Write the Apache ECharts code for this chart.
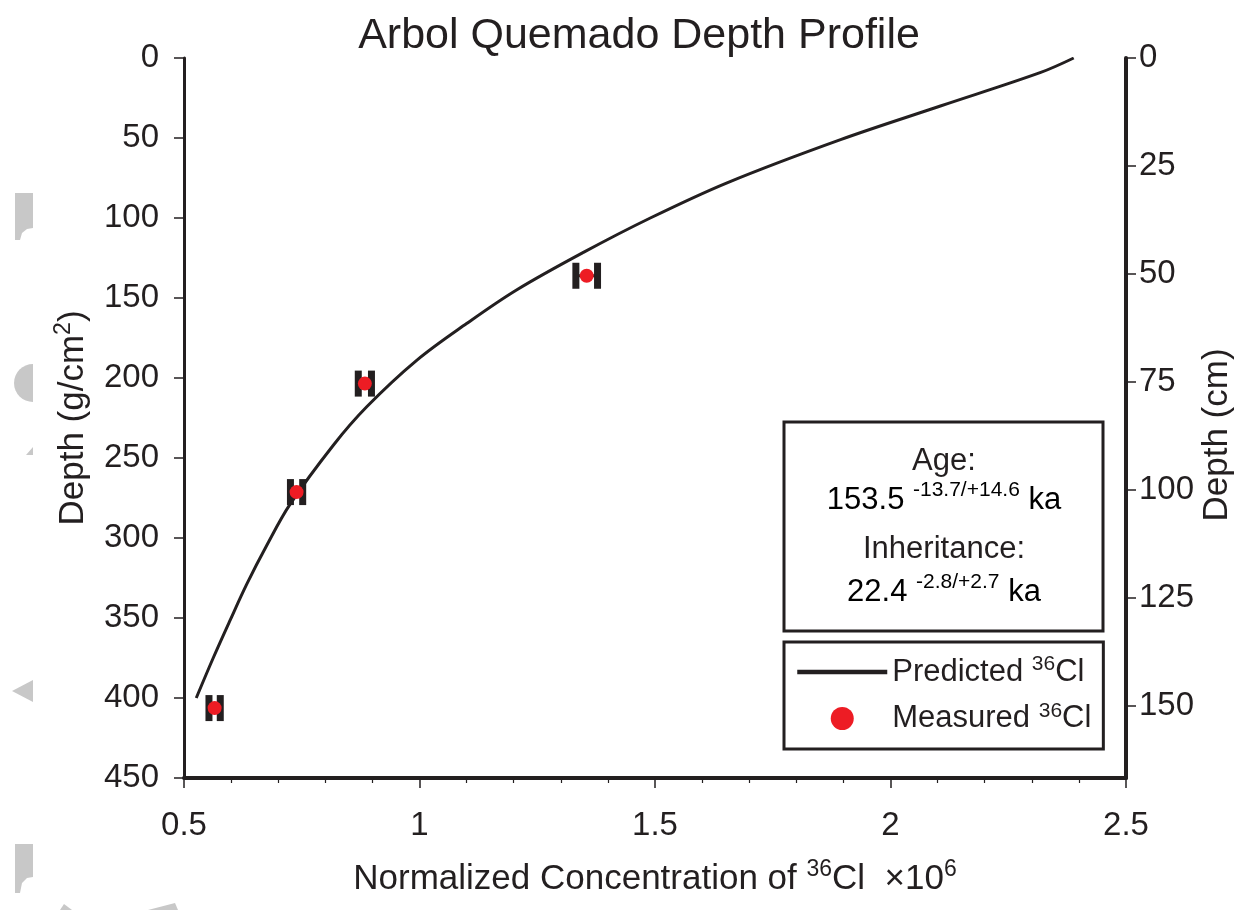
<!DOCTYPE html>
<html><head><meta charset="utf-8">
<script src="https://cdn.jsdelivr.net/npm/echarts@6/dist/echarts.min.js"></script>
<style>html,body{margin:0;padding:0;background:#fff}#c{width:1239px;height:910px}</style>
</head><body><div id="c"></div>
<script>
// ---- data ----
const predictedX = [0.526,0.562,0.597,0.633,0.675,0.725,0.817,0.888,0.994,1.100,1.206,1.348,1.490,1.653,1.894,2.106,2.319,2.389];
const predictedDepth = [400,375,352,329,305,279,242,218,189,166,145,121.5,100,78,51,30,9,0];
const measuredX = [1.355,0.884,0.739,0.565];
const measuredDepth = [136.1,203.5,271.3,406.3];
const measuredErr = [0.023,0.014,0.013,0.012];
const xTicks = [0.5,1,1.5,2,2.5];
const leftTicks = [0,50,100,150,200,250,300,350,400,450];
const rightTicks = [0,25,50,75,100,125,150];
const density = 2.7; // g/cm3 : 450 g/cm2 -> 166.7 cm

const INK = '#231f20';
const FONT = 'Liberation Sans, Arial, sans-serif';
const richMain = (fs, lh) => ({ fontSize: fs, lineHeight: lh, fontFamily: FONT, color: INK });
const richSup = (fs, lh) => ({ fontSize: fs, lineHeight: lh, fontFamily: FONT, color: INK, verticalAlign: 'top' });

const chart = echarts.init(document.getElementById('c'), null, { renderer: 'canvas' });

const grey = '#c8c8c8';
const option = {
  backgroundColor: '#fff',
  animation: false,
  grid: { left: 184, right: 113, top: 58, bottom: 132, containLabel: false, outerBoundsMode: 'none' },
  xAxis: {
    type: 'value', min: xTicks[0], max: xTicks[xTicks.length - 1], interval: 0.5,
    position: 'bottom',
    axisLine: { show: true, onZero: false, lineStyle: { color: INK, width: 4 } },
    axisTick: { show: true, length: 10, lineStyle: { color: INK, width: 1.5 } },
    minorTick: { show: true, splitNumber: 5, length: 5, lineStyle: { color: INK, width: 1.2 } },
    splitLine: { show: false },
    axisLabel: { color: INK, fontSize: 33, fontFamily: FONT, margin: 31 },
    name: '{a|Normalized Concentration of }{s|36}{a|Cl  ×10}{s|6}',
    nameLocation: 'middle', nameGap: 80, nameMoveOverlap: false,
    nameTextStyle: { rich: { a: richMain(35, 42), s: richSup(23, 20) } }
  },
  yAxis: [
    {
      type: 'value', inverse: true, min: leftTicks[0], max: leftTicks[leftTicks.length - 1], interval: 50,
      position: 'left',
      axisLine: { show: true, onZero: false, lineStyle: { color: INK, width: 3 } },
      axisTick: { show: true, length: 10, lineStyle: { color: INK, width: 1.5 } },
      splitLine: { show: false },
      axisLabel: { color: INK, fontSize: 33, fontFamily: FONT, margin: 25 },
      name: '{a|Depth (g/cm}{s|2}{a|)}',
      nameLocation: 'middle', nameGap: 90, nameRotate: 90, nameMoveOverlap: false,
      nameTextStyle: { rich: { a: richMain(35, 42), s: richSup(23, 20) } }
    },
    {
      type: 'value', inverse: true, min: 0, max: leftTicks[leftTicks.length - 1] / density, interval: 25,
      position: 'right',
      axisLine: { show: true, onZero: false, lineStyle: { color: INK, width: 4 } },
      axisTick: { show: true, length: 10, customValues: rightTicks, lineStyle: { color: INK, width: 1.5 } },
      splitLine: { show: false },
      axisLabel: { color: INK, fontSize: 33, fontFamily: FONT, margin: 13, customValues: rightTicks },
      name: 'Depth (cm)',
      nameLocation: 'middle', nameGap: 74, nameRotate: 90, nameMoveOverlap: false,
      nameTextStyle: { color: INK, fontSize: 35, fontFamily: FONT, padding: [0, 34, 0, 0] }
    }
  ],
  legend: {
    orient: 'vertical', left: 784, top: 642,
    padding: [12, 12, 15, 11], itemGap: 13,
    itemWidth: 90, itemHeight: 23,
    borderColor: INK, borderWidth: 3, backgroundColor: '#fff',
    data: [
      { name: 'Predicted', lineStyle: { width: 4.5 }, itemStyle: { opacity: 0 } },
      { name: 'Measured', icon: 'circle' }
    ],
    formatter: n => '{a|' + n + ' }{s|36}{a|Cl}',
    textStyle: { rich: { a: richMain(31, 36), s: richSup(21, 18) } }
  },
  graphic: [
    // faint grey marks along the left edge
    { type: 'polygon', z: 0, shape: { points: [[15,193],[33,193],[33,228],[27,229],[22,233],[20,240],[15,240]] }, style: { fill: grey } },
    { type: 'sector', z: 0, shape: { cx: 33, cy: 383, r: 19, startAngle: Math.PI / 2, endAngle: Math.PI * 1.5 }, style: { fill: grey } },
    { type: 'polygon', z: 0, shape: { points: [[26,455],[33,447],[33,455]] }, style: { fill: grey } },
    { type: 'polygon', z: 0, shape: { points: [[12,691],[33,680],[33,702]] }, style: { fill: grey } },
    { type: 'polygon', z: 0, shape: { points: [[15,844],[33,844],[33,877],[27,878],[22,883],[20,893],[15,893]] }, style: { fill: grey } },
    { type: 'polygon', z: 0, shape: { points: [[60,910],[64,904],[72,910]] }, style: { fill: grey } },
    { type: 'polygon', z: 0, shape: { points: [[148,910],[175,903],[178,910]] }, style: { fill: grey } },
    // title
    { type: 'text', x: 639, y: 36, style: { text: 'Arbol Quemado Depth Profile', fontSize: 43, fontFamily: FONT, fill: INK, align: 'center', verticalAlign: 'middle' } },
    // result box
    { type: 'rect', shape: { x: 784, y: 422, width: 319, height: 209 }, style: { fill: '#fff', stroke: INK, lineWidth: 3 }, z: 5 },
    { type: 'text', x: 944, y: 461, z: 6, style: { text: 'Age:', fontSize: 31, fontFamily: FONT, fill: INK, align: 'center', verticalAlign: 'middle' } },
    { type: 'text', x: 944, y: 500, z: 6, style: { text: '{a|153.5 }{s|-13.7/+14.6}{a| ka}', align: 'center', verticalAlign: 'middle', rich: { a: richMain(31, 40), s: richSup(21, 20) } } },
    { type: 'text', x: 944, y: 549, z: 6, style: { text: 'Inheritance:', fontSize: 31, fontFamily: FONT, fill: INK, align: 'center', verticalAlign: 'middle' } },
    { type: 'text', x: 944, y: 592, z: 6, style: { text: '{a|22.4 }{s|-2.8/+2.7}{a| ka}', align: 'center', verticalAlign: 'middle', rich: { a: richMain(31, 40), s: richSup(21, 20) } } }
  ],
  series: [
    {
      name: 'Predicted', type: 'line', xAxisIndex: 0, yAxisIndex: 0,
      data: predictedX.map((x, i) => [x, predictedDepth[i]]),
      smooth: 0.35, symbol: 'none', showSymbol: false,
      lineStyle: { color: INK, width: 3 }, itemStyle: { color: INK }, z: 2
    },
    {
      name: 'Error', type: 'custom', xAxisIndex: 0, yAxisIndex: 0,
      data: measuredX.map((x, i) => [x, measuredDepth[i], measuredErr[i]]),
      encode: { x: 0, y: 1 }, z: 3,
      renderItem: function (params, api) {
        const x = api.value(0), y = api.value(1), e = api.value(2);
        const p1 = api.coord([x - e, y]), p2 = api.coord([x + e, y]);
        const h = 26, w = 7;
        return { type: 'group', children: [
          { type: 'line', shape: { x1: p1[0], y1: p1[1], x2: p2[0], y2: p2[1] }, style: { stroke: INK, lineWidth: 3 } },
          { type: 'rect', shape: { x: p1[0] - w / 2, y: p1[1] - h / 2, width: w, height: h }, style: { fill: INK } },
          { type: 'rect', shape: { x: p2[0] - w / 2, y: p2[1] - h / 2, width: w, height: h }, style: { fill: INK } }
        ] };
      }
    },
    {
      name: 'Measured', type: 'scatter', xAxisIndex: 0, yAxisIndex: 0,
      data: measuredX.map((x, i) => [x, measuredDepth[i]]),
      symbol: 'circle', symbolSize: 14, itemStyle: { color: '#ed1c24', opacity: 1 }, z: 4
    }
  ]
};
chart.setOption(option);
</script>
</body></html>
